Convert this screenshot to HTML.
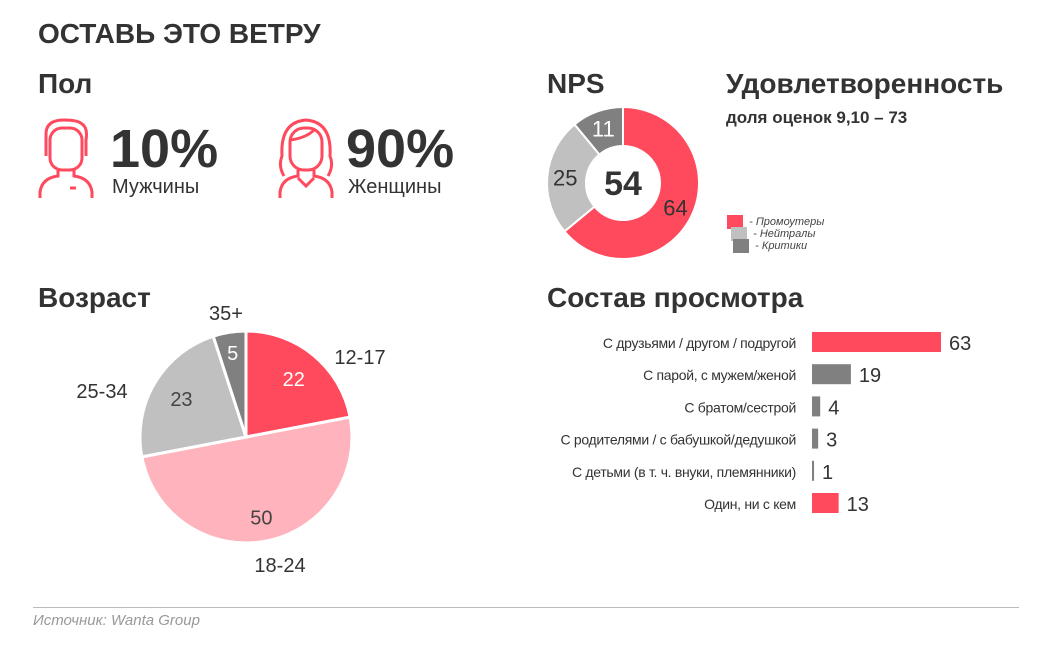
<!DOCTYPE html>
<html><head><meta charset="utf-8">
<style>
body{margin:0;width:1046px;height:652px;background:#fff;font-family:"Liberation Sans","Noto Sans CJK SC",sans-serif;color:#333;position:relative;overflow:hidden}
.a{position:absolute;white-space:nowrap}
.h{font-weight:bold;color:#333}
</style></head><body>
<div class="a h" style="left:38px;top:18px;font-size:28px">ОСТАВЬ ЭТО ВЕТРУ</div>
<div class="a h" style="left:38px;top:68px;font-size:28px">Пол</div>
<svg class="a" style="left:38px;top:116px" width="62" height="82" fill="none" stroke="#ff4a5e" stroke-width="3">
<path d="M8 40 V18 Q8 4 26 4 Q40 4 44 8 Q50 12 48 24 V40"/><rect x="12" y="12" width="32" height="42" rx="12"/><path d="M20 54 V60 Q4 62 2 76 V82 M36 54 V60 Q52 62 54 76 V82 M32 72 H38"/></svg>
<div class="a h" style="left:110px;top:118px;font-size:54px">10%</div>
<div class="a" style="left:112px;top:176px;font-size:20px">Мужчины</div>
<svg class="a" style="left:276px;top:116px" width="60" height="82" fill="none" stroke="#ff4a5e" stroke-width="3">
<path d="M8 60 Q2 50 6 40 Q4 6 30 4 Q56 6 54 40 Q58 50 52 60"/><rect x="14" y="12" width="32" height="42" rx="14"/><path d="M14 24 Q30 22 38 14"/><path d="M22 54 V60 Q6 62 4 76 V82 M38 54 V60 Q54 62 56 76 V82 M22 62 L30 70 L38 62"/></svg>
<div class="a h" style="left:346px;top:118px;font-size:54px">90%</div>
<div class="a" style="left:348px;top:176px;font-size:20px">Женщины</div>

<div class="a h" style="left:547px;top:68px;font-size:28px">NPS</div>
<div class="a h" style="left:726px;top:68px;font-size:28px">Удовлетворенность</div>
<div class="a h" style="left:726px;top:108px;font-size:17px">доля оценок 9,10 – 73</div>
<div class="a" style="left:727px;top:215px;font-size:11px;font-style:italic;color:#444"><span style="display:inline-block;width:16px;height:14px;background:#ff4a5e;vertical-align:middle"></span> &nbsp;- Промоутеры</div>
<div class="a" style="left:731px;top:227px;font-size:11px;font-style:italic;color:#444"><span style="display:inline-block;width:16px;height:14px;background:#c0c0c0;vertical-align:middle"></span> &nbsp;- Нейтралы</div>
<div class="a" style="left:733px;top:239px;font-size:11px;font-style:italic;color:#444"><span style="display:inline-block;width:16px;height:14px;background:#808080;vertical-align:middle"></span> &nbsp;- Критики</div>

<div class="a h" style="left:38px;top:282px;font-size:28px">Возраст</div>
<div class="a h" style="left:547px;top:282px;font-size:28px">Состав просмотра</div>

<svg class="a" style="left:0;top:0" width="1046" height="652" id="svg"></svg>
<div class="a" style="left:33px;top:607px;width:986px;border-top:1px solid #bbb"></div>
<div class="a" style="left:33px;top:612px;font-size:15px;font-style:italic;color:#999">Источник: Wanta Group</div>
<script>
const npsValues=[64,25,11];
const npsColors=['#ff4a5e','#c0c0c0','#808080'];
const npsScore=54;
const ageCats=['12-17','18-24','25-34','35+'];
const ageValues=[22,50,23,5];
const ageColors=['#ff4a5e','#ffb3bc','#c0c0c0','#808080'];
const viewCats=['С друзьями / другом / подругой','С парой, с мужем/женой','С братом/сестрой','С родителями / с бабушкой/дедушкой','С детьми (в т. ч. внуки, племянники)','Один, ни с кем'];
const viewValues=[63,19,4,3,1,13];
const viewColors=['#ff4a5e','#808080','#808080','#808080','#808080','#ff4a5e'];
const NS='http://www.w3.org/2000/svg',svg=document.getElementById('svg');
function mk(t,a){const e=document.createElementNS(NS,t);for(const k in a)e.setAttribute(k,a[k]);svg.appendChild(e);return e;}
function pt(cx,cy,r,f){const a=f*2*Math.PI;return [cx+r*Math.sin(a),cy-r*Math.cos(a)];}
function arc(cx,cy,r,r0,f0,f1){const [x1,y1]=pt(cx,cy,r,f0),[x2,y2]=pt(cx,cy,r,f1),l=f1-f0>.5?1:0;
 if(r0===0)return `M${cx},${cy}L${x1},${y1}A${r},${r} 0 ${l} 1 ${x2},${y2}Z`;
 const [x3,y3]=pt(cx,cy,r0,f1),[x4,y4]=pt(cx,cy,r0,f0);
 return `M${x1},${y1}A${r},${r} 0 ${l} 1 ${x2},${y2}L${x3},${y3}A${r0},${r0} 0 ${l} 0 ${x4},${y4}Z`;}
function txt(x,y,s,size,anchor,extra){const t=mk('text',Object.assign({x:x,y:y,'font-size':size,'text-anchor':anchor||'middle','font-family':'Liberation Sans, sans-serif',fill:'#333'},extra||{}));t.textContent=s;return t;}
// NPS donut
let tot=npsValues.reduce((a,b)=>a+b,0),acc=0;
npsValues.forEach((v,i)=>{const f0=acc/tot,f1=(acc+v)/tot;
 const p=mk('path',{d:arc(623,183,76,37,f0,f1),fill:npsColors[i],stroke:'#fff','stroke-width':2});
 
 
 const [x,y]=pt(623,183,58,(f0+f1)/2);
 const t=txt(x,y+8,String(v),22,'middle',{fill:i==1?'#333':(i==2?'#fff':'#333')});
 
 
 acc+=v;});
const sc=txt(623,195,String(npsScore),34,'middle',{'font-weight':'bold'});


// Age pie
tot=ageValues.reduce((a,b)=>a+b,0);acc=0;
const lblR=[130,125,128,115];
ageValues.forEach((v,i)=>{const f0=acc/tot,f1=(acc+v)/tot;
 const p=mk('path',{d:arc(246,437,106,0,f0,f1),fill:ageColors[i],stroke:'#fff','stroke-width':3});
 
 
 const [x,y]=pt(246,437,v<10?85:(v>40?82:75),(f0+f1)/2);
 const t=txt(x,y+7,String(v),20,'middle',{fill:(i==0||i==3)?'#fff':'#444'});
 
 
 acc+=v;});
[[360,364],[280,572],[102,398],[226,320]].forEach((p,i)=>{const t=txt(p[0],p[1],ageCats[i],20,'middle');
 
 });
// Bars
const x0=812,scale=129/63,y0=342,step=32.2;
viewCats.forEach((c,i)=>{const y=y0+i*step,w=viewValues[i]*scale;
 const l=txt(796,y+6,c,14,'end',{'letter-spacing':'-0.3'});
 
 
 const r=mk('rect',{x:x0,y:y-10,width:w,height:20,fill:viewColors[i]});
 
 
 const v=txt(x0+w+8,y+8,String(viewValues[i]),20,'start');
 
 });
</script>
</body></html>
